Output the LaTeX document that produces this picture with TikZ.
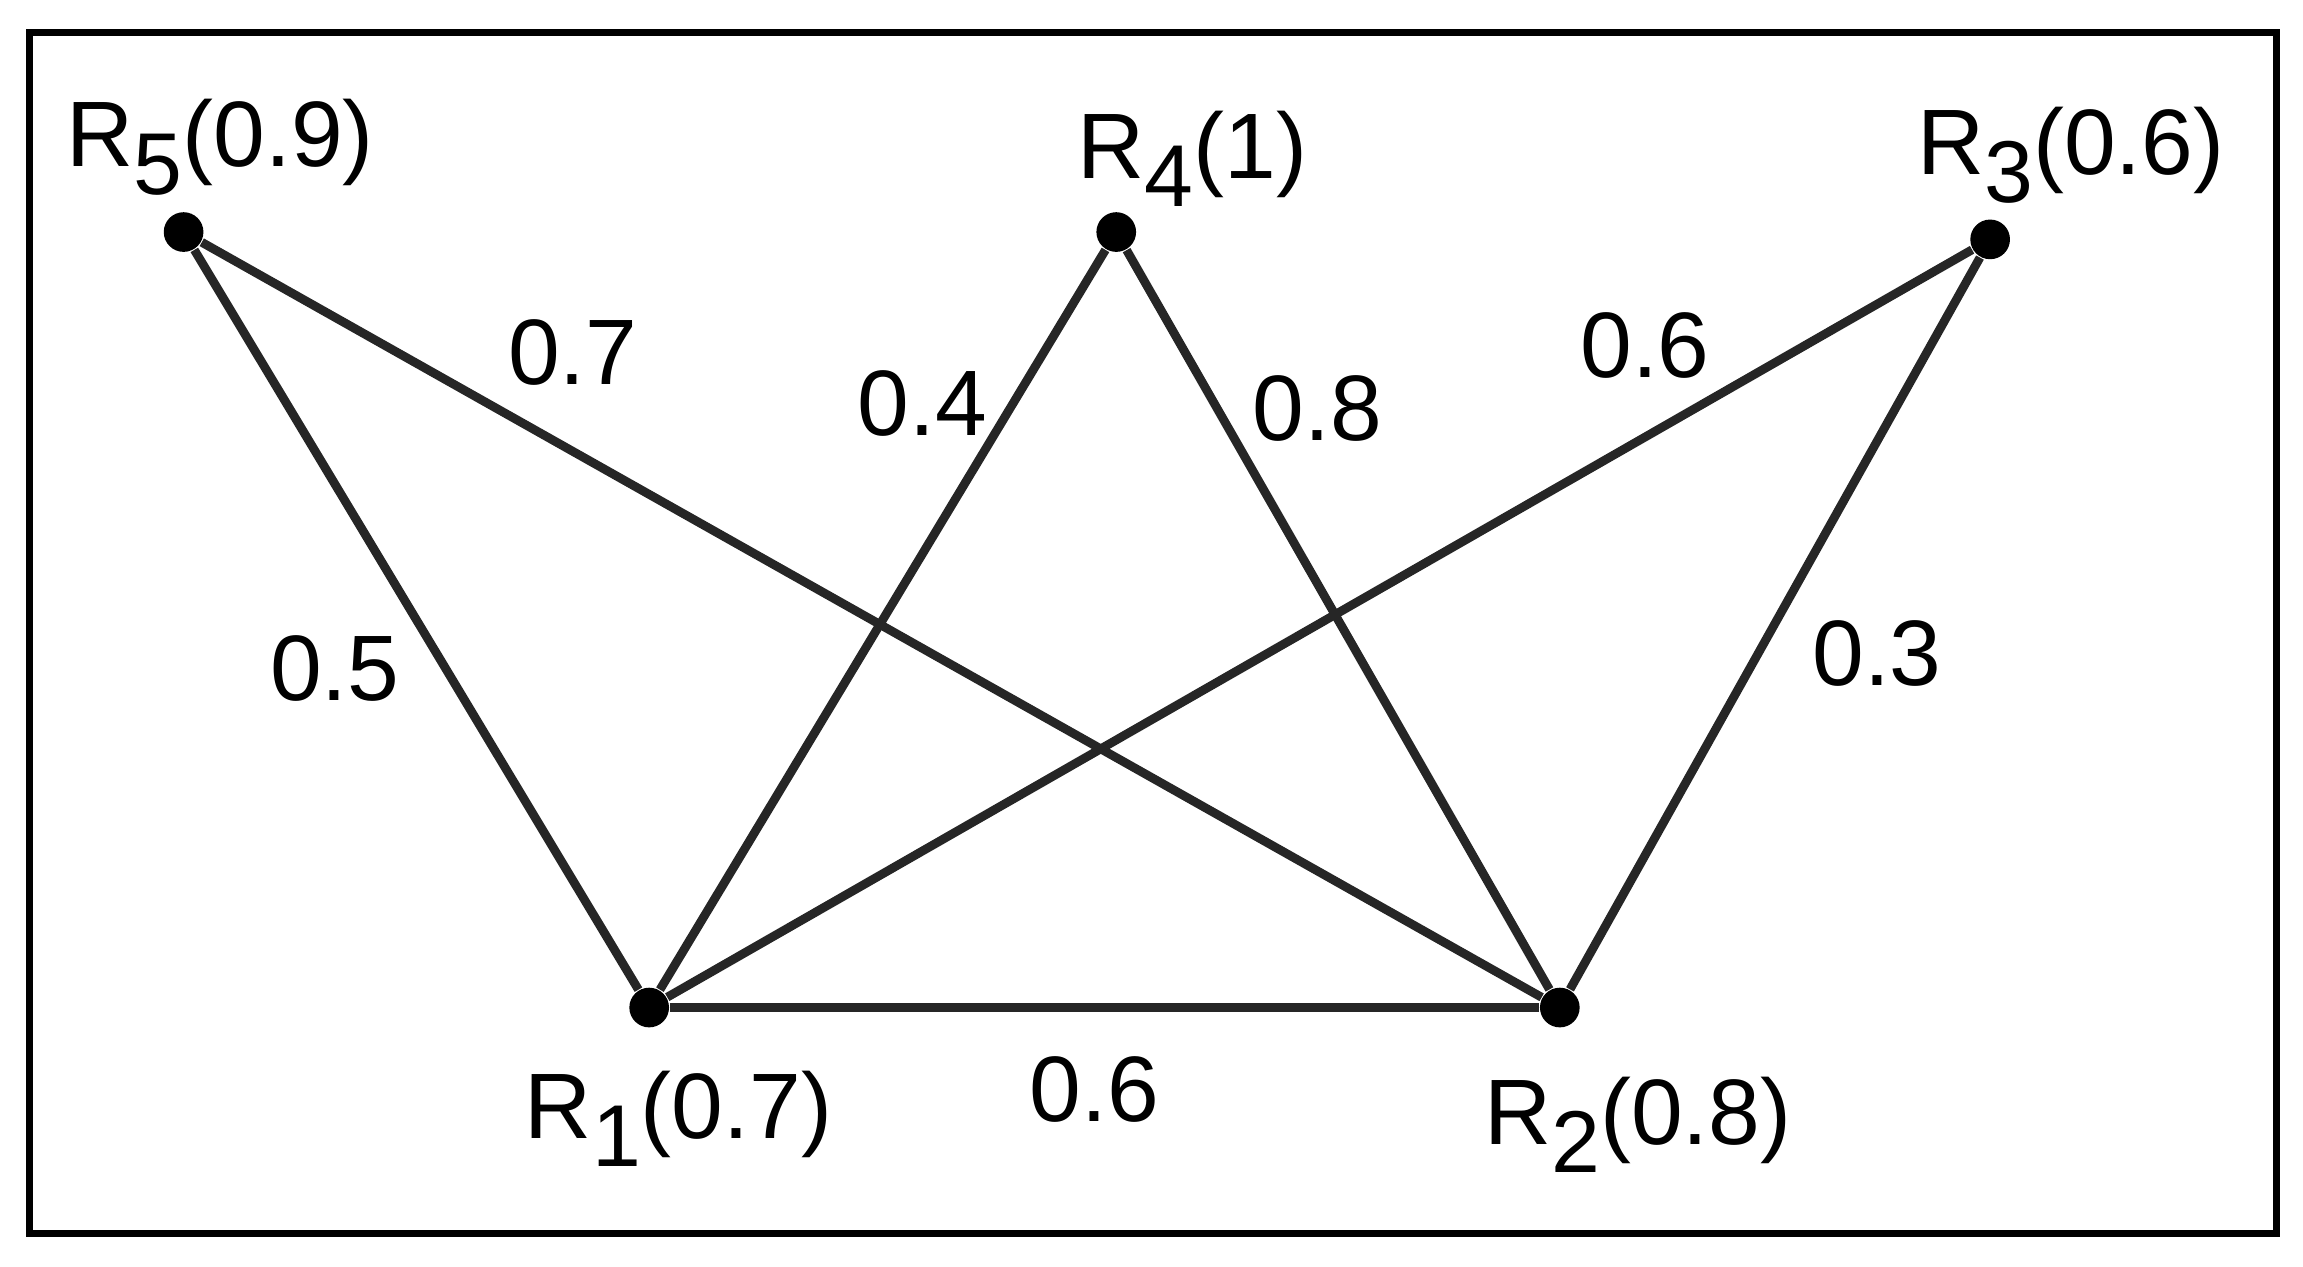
\documentclass[tikz,border=0pt]{standalone}
\usepackage{fontspec}
\setmainfont{Liberation Sans}
\newcommand{\lowsub}[1]{\raisebox{-0.3em}{\fontsize{17}{19}\selectfont #1}}
\begin{document}
\begin{tikzpicture}[x=0.01cm,y=-0.01cm,
  dot/.style={circle,fill=black,inner sep=0pt,minimum size=0.27cm},
  lbl/.style={font=\fontsize{18}{20}\selectfont},
  edge/.style={line width=1.7pt,draw=black!85}]
\useasboundingbox (0,0) rectangle (1568,862);
\draw[line width=1.3pt] (20,22) rectangle (1550,840);
\node[dot] (r5) at (125,158) {};
\node[dot] (r4) at (760,158) {};
\node[dot] (r3) at (1355,163) {};
\node[dot] (r1) at (442,686) {};
\node[dot] (r2) at (1062,686) {};
\node[lbl] (l5) at (150,100) {R\lowsub{5}(0.9)};
\node[lbl] (l4) at (812,108) {R\lowsub{4}(1)};
\node[lbl] (l3) at (1410,106) {R\lowsub{3}(0.6)};
\node[lbl] (l1) at (462,762) {R\lowsub{1}(0.7)};
\node[lbl] (l2) at (1115,766) {R\lowsub{2}(0.8)};
\draw[edge] (r5) -- (r1);
\draw[edge] (r5) -- (r2);
\draw[edge] (r4) -- (r1);
\draw[edge] (r4) -- (r2);
\draw[edge] (r3) -- (r1);
\draw[edge] (r3) -- (r2);
\draw[edge] (r1) -- (r2);
\node[lbl] (e1) at (390,240) {0.7};
\node[lbl] (e2) at (628,275) {0.4};
\node[lbl] (e3) at (897,278) {0.8};
\node[lbl] (e4) at (1120,235) {0.6};
\node[lbl] (e5) at (228,455) {0.5};
\node[lbl] (e6) at (1278,445) {0.3};
\node[lbl] (e7) at (745,742) {0.6};
\end{tikzpicture}
\end{document}
